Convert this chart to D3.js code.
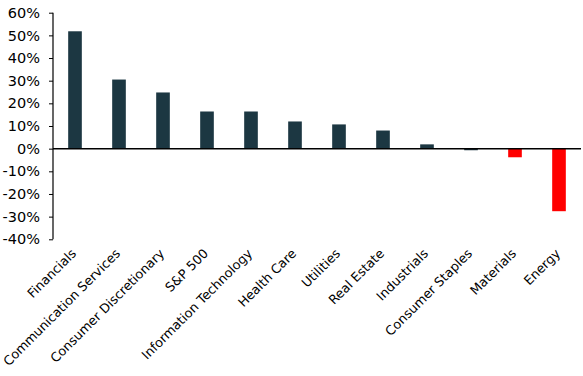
<!DOCTYPE html>
<html>
<head>
<meta charset="utf-8">
<script src="https://cdn.jsdelivr.net/npm/d3@7"></script>
<style>
  body { margin: 0; background: #fff; }
  svg text { font-family: Verdana, "DejaVu Sans", sans-serif; fill: #000; }
</style>
</head>
<body>
<div id="chart"></div>
<script>
// sector returns (%)
var categories = ["Financials", "Communication Services", "Consumer Discretionary", "S&P 500",
  "Information Technology", "Health Care", "Utilities", "Real Estate", "Industrials",
  "Consumer Staples", "Materials", "Energy"];
var values = [51.8, 30.5, 24.8, 16.4, 16.4, 12.0, 10.7, 8.0, 1.9, -0.7, -3.8, -27.6];
var yTicks = [60, 50, 40, 30, 20, 10, 0, -10, -20, -30, -40];

var W = 583, H = 376;
var margin = {top: 12.7, left: 53, right: 2, bottom: 136.7};

var svg = d3.select("#chart").append("svg")
  .attr("width", W)
  .attr("height", H);

var x = d3.scaleBand()
  .domain(categories)
  .range([margin.left, W - margin.right])
  .paddingInner(0.69)
  .paddingOuter(0.345);

var y = d3.scaleLinear()
  .domain([-40, 60])
  .range([H - margin.bottom, margin.top]);

// bars
svg.selectAll(".bar")
  .data(values)
  .enter().append("rect")
    .attr("class", "bar")
    .attr("x", function(d, i) { return x(categories[i]); })
    .attr("y", function(d) { return y(Math.max(0, d)); })
    .attr("width", x.bandwidth())
    .attr("height", function(d) { return Math.abs(y(d) - y(0)); })
    .attr("fill", function(d, i) { return i >= 10 ? "#ff0000" : "#1c3742"; });

// y axis
var yAxis = svg.append("g")
  .attr("transform", "translate(" + margin.left + ",0)")
  .call(d3.axisLeft(y).tickValues(yTicks).tickSize(4).tickPadding(9)
    .tickFormat(function(d) { return d + "%"; }));
yAxis.select(".domain").attr("stroke", "#000").attr("stroke-width", 1.2)
  .attr("d", "M0," + y(60) + "V" + y(-40));
yAxis.selectAll(".tick line").attr("stroke", "#000");
yAxis.selectAll("text").style("font-size", "14.5px").style("font-family", "Verdana, 'DejaVu Sans', sans-serif");

// zero line
svg.append("line")
  .attr("x1", margin.left).attr("x2", W - margin.right)
  .attr("y1", y(0)).attr("y2", y(0))
  .attr("stroke", "#000").attr("stroke-width", 1.5);

// category labels
svg.selectAll(".cat")
  .data(categories)
  .enter().append("text")
    .attr("class", "cat")
    .attr("text-anchor", "end")
    .style("font-size", "12.8px")
    .attr("transform", function(d) {
      return "translate(" + (x(d) + x.bandwidth() / 2 + 2) + "," + (y(-40) + 15) + ") rotate(-45)";
    })
    .text(function(d) { return d; });
</script>
</body>
</html>
